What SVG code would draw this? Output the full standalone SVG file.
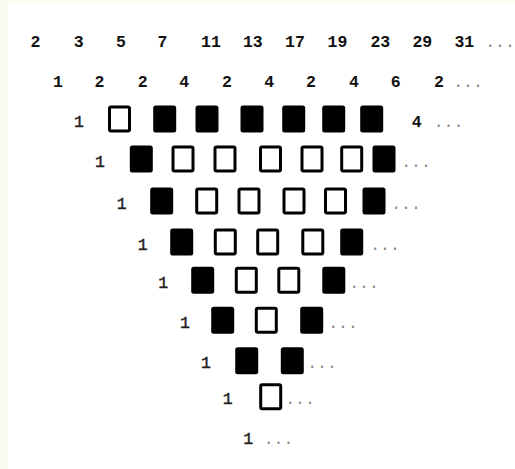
<svg xmlns="http://www.w3.org/2000/svg" width="515" height="469" viewBox="0 0 515 469">
<style>
.n{font-family:"Liberation Mono","DejaVu Sans Mono",monospace;font-size:16.5px;font-weight:bold;fill:#111;text-anchor:middle}
.o{font-family:"Liberation Mono","DejaVu Sans Mono",monospace;font-size:16.5px;fill:#222;text-anchor:middle;stroke:#222;stroke-width:0.4}
.d{font-family:"Liberation Mono","DejaVu Sans Mono",monospace;font-size:16.5px;fill:#888;text-anchor:middle}
.f{fill:#000}
.h{fill:#fff;stroke:#000;stroke-width:3}
</style>
<defs>
<rect id="F" class="f" x="-11.5" y="-13.5" width="23" height="27" rx="2.5"/>
<rect id="H" class="h" x="-10" y="-12" width="20" height="24" rx="1.5"/>
</defs>
<rect width="515" height="469" fill="#f9fbf2"/>
<rect x="8" y="3" width="507" height="466" fill="#fff"/>
<g id="primes">
<text class="n" x="35.5" y="46.7">2</text>
<text class="n" x="78.7" y="46.7">3</text>
<text class="n" x="121" y="46.7">5</text>
<text class="n" x="162.5" y="46.7">7</text>
<text class="n" x="211" y="46.7">11</text>
<text class="n" x="252.8" y="46.7">13</text>
<text class="n" x="295" y="46.7">17</text>
<text class="n" x="337.5" y="46.7">19</text>
<text class="n" x="380.3" y="46.7">23</text>
<text class="n" x="422.3" y="46.7">29</text>
<text class="n" x="464.3" y="46.7">31</text>
<text class="d" x="500" y="46.7">...</text>
</g>
<g id="diffs">
<text class="n" x="58" y="87">1</text>
<text class="n" x="99.5" y="87">2</text>
<text class="n" x="142.7" y="87">2</text>
<text class="n" x="184.3" y="87">4</text>
<text class="n" x="227" y="87">2</text>
<text class="n" x="269.3" y="87">4</text>
<text class="n" x="311" y="87">2</text>
<text class="n" x="354" y="87">4</text>
<text class="n" x="395.7" y="87">6</text>
<text class="n" x="439" y="87">2</text>
<text class="d" x="468" y="87">...</text>
</g>
<g id="row3">
<text class="o" x="79" y="126.5">1</text>
<use href="#H" x="119.5" y="119"/>
<use href="#F" x="164.7" y="119"/>
<use href="#F" x="207" y="119"/>
<use href="#F" x="252" y="119"/>
<use href="#F" x="293.7" y="119"/>
<use href="#F" x="333.7" y="119"/>
<use href="#F" x="371.7" y="119"/>
<text class="n" x="416.7" y="126.5">4</text>
<text class="d" x="448.5" y="126.5">...</text>
</g>
<g id="row4">
<text class="o" x="100" y="166.5">1</text>
<use href="#F" x="141.3" y="159"/>
<use href="#H" x="183" y="159"/>
<use href="#H" x="225" y="159"/>
<use href="#H" x="270.5" y="159"/>
<use href="#H" x="312" y="159"/>
<use href="#H" x="351.7" y="159"/>
<use href="#F" x="384" y="159"/>
<text class="d" x="416" y="166.5">...</text>
</g>
<g id="row5">
<text class="o" x="121.7" y="208.5">1</text>
<use href="#F" x="161.7" y="201"/>
<use href="#H" x="206.7" y="201"/>
<use href="#H" x="249" y="201"/>
<use href="#H" x="294" y="201"/>
<use href="#H" x="335.5" y="201"/>
<use href="#F" x="374" y="201"/>
<text class="d" x="406" y="208.5">...</text>
</g>
<g id="row6">
<text class="o" x="142.7" y="249.5">1</text>
<use href="#F" x="181.7" y="242"/>
<use href="#H" x="225.3" y="242"/>
<use href="#H" x="267.7" y="242"/>
<use href="#H" x="312.8" y="242"/>
<use href="#F" x="351.7" y="242"/>
<text class="d" x="385" y="249.5">...</text>
</g>
<g id="row7">
<text class="o" x="163.3" y="287.8">1</text>
<use href="#F" x="202.7" y="280.3"/>
<use href="#H" x="246.3" y="280.3"/>
<use href="#H" x="288.8" y="280.3"/>
<use href="#F" x="333.8" y="280.3"/>
<text class="d" x="364" y="287.8">...</text>
</g>
<g id="row8">
<text class="o" x="185" y="327.8">1</text>
<use href="#F" x="222.7" y="320.3"/>
<use href="#H" x="266.3" y="320.3"/>
<use href="#F" x="311.7" y="320.3"/>
<text class="d" x="343" y="327.8">...</text>
</g>
<g id="row9">
<text class="o" x="206" y="368.2">1</text>
<use href="#F" x="246.7" y="360.7"/>
<use href="#F" x="292.3" y="360.7"/>
<text class="d" x="322" y="368.2">...</text>
</g>
<g id="row10">
<text class="o" x="227.7" y="404.2">1</text>
<use href="#H" x="270.7" y="396.7"/>
<text class="d" x="300" y="404.2">...</text>
</g>
<g id="row11">
<text class="o" x="248.3" y="443.5">1</text>
<text class="d" x="278.5" y="443.5">...</text>
</g>
</svg>
